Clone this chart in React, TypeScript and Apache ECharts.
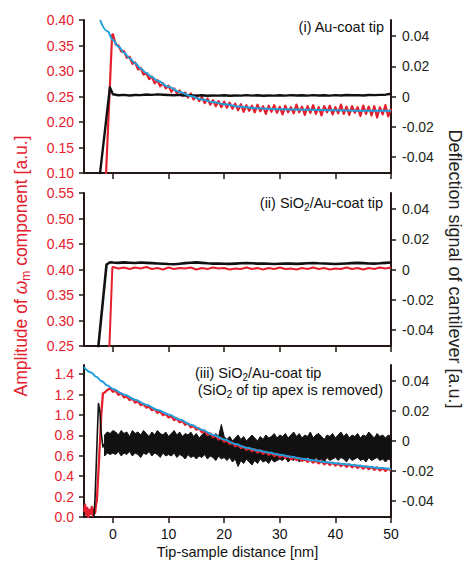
import React, { useEffect, useRef } from "react";
import * as echarts from "echarts";

const RED = "#e5202e";
const BLUE = "#1e9fdc";
const BLACK = "#111111";
const AXIS = "#231815";
const FONT = "Arial, 'Liberation Sans', Helvetica, sans-serif";

// ---- axes ----
const X_MIN = -5.2;
const X_MAX = 50;
const X_TICKS = [0, 10, 20, 30, 40, 50];
const DEFL_MIN = -0.0506;
const DEFL_MAX = 0.0506;
const DEFL_TICKS = [-0.04, -0.02, 0, 0.02, 0.04];
const P1_AMP_MIN = 0.1;
const P1_AMP_MAX = 0.4;
const P1_AMP_TICKS = [0.1, 0.15, 0.2, 0.25, 0.3, 0.35, 0.4];
const P2_AMP_MIN = 0.25;
const P2_AMP_MAX = 0.55;
const P2_AMP_TICKS = [0.25, 0.3, 0.35, 0.4, 0.45, 0.5, 0.55];
const P3_AMP_MIN = 0;
const P3_AMP_MAX = 1.49;
const P3_AMP_TICKS = [0, 0.2, 0.4, 0.6, 0.8, 1.0, 1.2, 1.4];

// ---- panel (i) Au-coat tip ----
const P1_FIT_X = [-2.3, -1, 0, 1, 2, 3, 4, 5, 6, 7, 8, 10, 12, 14, 16, 18, 20, 23, 26, 30, 35, 40, 45, 50];
const P1_FIT_Y = [0.4, 0.378, 0.361, 0.348, 0.336, 0.325, 0.315, 0.305, 0.296, 0.288, 0.281, 0.269, 0.259, 0.251, 0.244, 0.239, 0.235, 0.23, 0.227, 0.225, 0.224, 0.223, 0.222, 0.222];
const P1_RED_RISE_X = [-1.25, -0.15];
const P1_RED_RISE_Y = [0.095, 0.37];
const P1_RED_X0 = 0;
const P1_RED_STEP = 0.5;
const P1_RED = [
  0.372, 0.352, 0.35, 0.338, 0.339, 0.326, 0.328, 0.314, 0.317, 0.303,
  0.306, 0.293, 0.296, 0.284, 0.289, 0.276, 0.282, 0.27, 0.276, 0.266,
  0.271, 0.259, 0.266, 0.256, 0.262, 0.251, 0.258, 0.248, 0.256, 0.244,
  0.252, 0.241, 0.249, 0.237, 0.246, 0.234, 0.243, 0.231, 0.241, 0.229,
  0.24, 0.228, 0.238, 0.226, 0.236, 0.223, 0.235, 0.22, 0.233, 0.222,
  0.232, 0.219, 0.234, 0.221, 0.231, 0.216, 0.232, 0.22, 0.233, 0.218,
  0.23, 0.215, 0.232, 0.219, 0.229, 0.217, 0.234, 0.219, 0.23, 0.214,
  0.231, 0.218, 0.233, 0.216, 0.229, 0.213, 0.231, 0.219, 0.232, 0.215,
  0.229, 0.217, 0.234, 0.216, 0.23, 0.214, 0.231, 0.218, 0.229, 0.212,
  0.232, 0.216, 0.23, 0.213, 0.231, 0.209, 0.229, 0.215, 0.233, 0.211,
  0.226,
];
const P1_BLK_RISE_X = [-2.34, -0.54];
const P1_BLK_RISE_Y = [-0.0515, 0.006];
const P1_BLK_X0 = 0;
const P1_BLK_STEP = 1;
const P1_BLK = [
  0.0015, 0.0008, 0.0011, 0.0007, 0.001, 0.0009, 0.0013, 0.0011, 0.0014, 0.0012,
  0.001, 0.0008, 0.0011, 0.0007, 0.0009, 0.0006, 0.0008, 0.0005, 0.0007, 0.0006,
  0.0008, 0.0005, 0.0007, 0.0006, 0.0009, 0.0006, 0.0008, 0.0005, 0.0007, 0.0006,
  0.0008, 0.0006, 0.0009, 0.0007, 0.0008, 0.0006, 0.0009, 0.0007, 0.0008, 0.0006,
  0.0009, 0.0007, 0.001, 0.0008, 0.0009, 0.0007, 0.001, 0.0009, 0.0011, 0.0012,
  0.0018,
];

// ---- panel (ii) SiO2/Au-coat tip ----
const P2_RED_RISE_X = [-0.65, -0.1];
const P2_RED_RISE_Y = [0.245, 0.404];
const P2_RED_X0 = 0;
const P2_RED_STEP = 1;
const P2_RED = [
  0.405, 0.402, 0.404, 0.401, 0.404, 0.402, 0.405, 0.401, 0.403, 0.4,
  0.404, 0.401, 0.403, 0.402, 0.404, 0.4, 0.403, 0.401, 0.404, 0.402,
  0.403, 0.4, 0.402, 0.401, 0.404, 0.401, 0.403, 0.4, 0.403, 0.401,
  0.404, 0.401, 0.402, 0.4, 0.403, 0.401, 0.404, 0.401, 0.403, 0.4,
  0.402, 0.401, 0.404, 0.401, 0.403, 0.4, 0.403, 0.401, 0.404, 0.402,
  0.404,
];
const P2_BLK_RISE_X = [-2.65, -1.15, -0.5];
const P2_BLK_RISE_Y = [-0.052, 0.0033, 0.0048];
const P2_BLK_X0 = 0;
const P2_BLK_STEP = 1;
const P2_BLK = [
  0.0046, 0.0044, 0.0047, 0.0045, 0.0043, 0.0046, 0.0044, 0.0042, 0.004, 0.0038,
  0.0036, 0.0035, 0.0038, 0.0042, 0.0045, 0.0047, 0.0044, 0.0041, 0.0039, 0.004,
  0.0038, 0.0037, 0.0039, 0.0041, 0.0043, 0.0041, 0.0039, 0.004, 0.0038, 0.0036,
  0.0038, 0.004, 0.0039, 0.0037, 0.0039, 0.0041, 0.0043, 0.0041, 0.004, 0.0038,
  0.0036, 0.0038, 0.004, 0.0042, 0.0044, 0.0042, 0.004, 0.0039, 0.0041, 0.0044,
  0.0046,
];

// ---- panel (iii) SiO2/Au-coat tip, apex SiO2 removed ----
const P3_FIT_X = [-5.2, -4, -3, -2, -1, 0, 2, 4, 6, 8, 10, 12, 14, 16, 18, 20, 22, 24, 26, 28, 30, 32, 34, 36, 38, 40, 42, 44, 46, 48, 50];
const P3_FIT_Y = [1.47, 1.42, 1.375, 1.33, 1.29, 1.255, 1.2, 1.15, 1.1, 1.05, 1.005, 0.955, 0.905, 0.855, 0.805, 0.76, 0.715, 0.68, 0.655, 0.632, 0.61, 0.59, 0.572, 0.556, 0.54, 0.528, 0.516, 0.504, 0.492, 0.48, 0.468];
const P3_RED_PRE_X0 = -5.2;
const P3_RED_PRE_STEP = 0.2;
const P3_RED_PRE = [0.05, 0.12, 0.02, 0.09, 0.0, 0.07, 0.03, 0.1, 0.01, 0.08, 0.04, 0.14];
const P3_RED_RISE_X = [-2.9, -2.5, -2.1, -1.8];
const P3_RED_RISE_Y = [0.15, 0.55, 1.0, 1.21];
const P3_RED_X0 = -1.5;
const P3_RED_STEP = 0.5;
const P3_RED = [
  1.22, 1.245, 1.262, 1.228,
  1.236, 1.198, 1.212, 1.172, 1.184, 1.146, 1.16, 1.121, 1.135, 1.096,
  1.108, 1.072, 1.083, 1.047, 1.06, 1.022, 1.037, 0.999, 1.012, 0.976,
  0.99, 0.951, 0.966, 0.928, 0.941, 0.904, 0.918, 0.879, 0.892, 0.856,
  0.869, 0.83, 0.845, 0.806, 0.82, 0.783, 0.797, 0.759, 0.774, 0.738,
  0.752, 0.716, 0.729, 0.694, 0.709, 0.676, 0.69, 0.658, 0.676, 0.645,
  0.664, 0.632, 0.651, 0.62, 0.641, 0.61, 0.629, 0.598, 0.619, 0.588,
  0.607, 0.578, 0.597, 0.566, 0.587, 0.558, 0.578, 0.55, 0.57, 0.541,
  0.562, 0.533, 0.554, 0.526, 0.546, 0.517, 0.539, 0.511, 0.533, 0.505,
  0.527, 0.498, 0.521, 0.492, 0.515, 0.487, 0.509, 0.481, 0.503, 0.474,
  0.497, 0.469, 0.491, 0.463, 0.486, 0.456, 0.479, 0.452, 0.474, 0.455,
];
const P3_BLK_RISE_X = [-3.5, -3.2, -2.8, -2.6, -2.35, -2.1, -1.8, -1.5];
const P3_BLK_RISE_Y = [-0.056, -0.037, 0.005, 0.025, 0.02, 0.005, -0.004, -0.002];
const P3_BLK_X0 = -1.5;
const P3_BLK_STEP = 0.5;
const P3_BLK_UPPER = [
  0.004, 0.006, 0.005, 0.007,
  0.006, 0.004, 0.007, 0.005, 0.006, 0.003, 0.007, 0.005, 0.006, 0.004,
  0.007, 0.005, 0.003, 0.006, 0.004, 0.007, 0.005, 0.004, 0.006, 0.003,
  0.005, 0.007, 0.004, 0.006, 0.003, 0.005, 0.004, 0.006, 0.003, 0.005,
  0.002, 0.004, 0.006, 0.003, 0.004, 0.002, 0.005, 0.003, 0.011, 0.003,
  0.001, 0.003, 0.0, 0.002, 0.004, 0.001, 0.003, 0.0, 0.002, 0.004,
  0.002, 0.0, 0.003, 0.001, 0.004, 0.002, 0.003, 0.005, 0.002, 0.004,
  0.003, 0.005, 0.002, 0.004, 0.006, 0.003, 0.005, 0.002, 0.004, 0.003,
  0.006, 0.002, 0.004, 0.005, 0.003, 0.001, 0.004, 0.003, 0.005, 0.002,
  0.004, 0.006, 0.003, 0.005, 0.002, 0.004, 0.003, 0.005, 0.002, 0.004,
  0.003, 0.006, 0.004, 0.002, 0.005, 0.003, 0.004, 0.002, 0.004, 0.003,
];
const P3_BLK_LOWER = [
  -0.01, -0.008, -0.009, -0.008,
  -0.009, -0.007, -0.01, -0.008, -0.009, -0.007, -0.01, -0.008, -0.009, -0.011,
  -0.008, -0.009, -0.007, -0.01, -0.008, -0.009, -0.011, -0.008, -0.01, -0.009,
  -0.01, -0.008, -0.011, -0.009, -0.01, -0.012, -0.009, -0.011, -0.01, -0.012,
  -0.01, -0.011, -0.009, -0.012, -0.01, -0.011, -0.013, -0.01, -0.012, -0.011,
  -0.013, -0.011, -0.014, -0.012, -0.017, -0.013, -0.015, -0.012, -0.014, -0.016,
  -0.013, -0.015, -0.012, -0.014, -0.013, -0.015, -0.012, -0.014, -0.013, -0.012,
  -0.013, -0.011, -0.014, -0.012, -0.013, -0.011, -0.014, -0.012, -0.013, -0.011,
  -0.012, -0.014, -0.011, -0.013, -0.012, -0.014, -0.011, -0.013, -0.012, -0.011,
  -0.013, -0.011, -0.012, -0.014, -0.011, -0.013, -0.012, -0.011, -0.013, -0.012,
  -0.014, -0.011, -0.013, -0.012, -0.011, -0.013, -0.012, -0.014, -0.012, -0.013,
];

const zip = (xs: number[], ys: number[]) => xs.map((x, i) => [x, ys[i]]);
const sampled = (x0: number, step: number, ys: number[]) =>
  ys.map((y, i) => [Math.round((x0 + i * step) * 1000) / 1000, y]);

const GRIDS = [
  { left: 84, top: 20, width: 307, height: 153 },
  { left: 84, top: 193, width: 307, height: 153 },
  { left: 84, top: 365, width: 307, height: 152 },
];

function buildOption() {
  const xAxis = [0, 1, 2].map((i) => ({
    type: "value",
    gridIndex: i,
    min: X_MIN,
    max: X_MAX,
    axisLine: { show: true, onZero: false, lineStyle: { color: AXIS, width: 2 } },
    axisTick: { show: true, length: 6, inside: false, customValues: X_TICKS, lineStyle: { color: AXIS, width: 1.5 } },
    axisLabel: { show: i === 2, customValues: X_TICKS, color: BLACK, fontSize: 14, fontFamily: FONT, margin: 10 },
    splitLine: { show: false },
  }));
  const leftSpecs = [
    { min: P1_AMP_MIN, max: P1_AMP_MAX, ticks: P1_AMP_TICKS, dec: 2 },
    { min: P2_AMP_MIN, max: P2_AMP_MAX, ticks: P2_AMP_TICKS, dec: 2 },
    { min: P3_AMP_MIN, max: P3_AMP_MAX, ticks: P3_AMP_TICKS, dec: 1 },
  ];
  const yAxis: any[] = [];
  leftSpecs.forEach((s, i) => {
    yAxis.push({
      type: "value",
      gridIndex: i,
      position: "left",
      min: s.min,
      max: s.max,
      axisLine: { show: true, onZero: false, lineStyle: { color: AXIS, width: 2 } },
      axisTick: { show: true, length: 5, customValues: s.ticks, lineStyle: { color: AXIS, width: 1.5 } },
      axisLabel: {
        customValues: s.ticks,
        color: RED,
        fontSize: 14,
        fontFamily: FONT,
        margin: 10,
        formatter: (v: number) => v.toFixed(s.dec),
      },
      splitLine: { show: false },
    });
    yAxis.push({
      type: "value",
      gridIndex: i,
      position: "right",
      min: DEFL_MIN,
      max: DEFL_MAX,
      axisLine: { show: true, onZero: false, lineStyle: { color: AXIS, width: 2 } },
      axisTick: { show: true, length: 5, customValues: DEFL_TICKS, lineStyle: { color: AXIS, width: 1.5 } },
      axisLabel: {
        customValues: DEFL_TICKS,
        color: "#231f20",
        fontSize: 14,
        fontFamily: FONT,
        margin: 11,
        formatter: (v: number) => (Math.abs(v) < 1e-9 ? "0" : v.toFixed(2)),
      },
      splitLine: { show: false },
    });
  });

  const line = (xi: number, yi: number, data: any[], color: string, width: number, extra: any = {}) => ({
    type: "line",
    xAxisIndex: xi,
    yAxisIndex: yi,
    data,
    showSymbol: false,
    symbol: "none",
    clip: true,
    lineStyle: { color, width, join: "round" },
    itemStyle: { color },
    ...extra,
  });

  const series: any[] = [
    // panel 1
    line(0, 0, [...zip(P1_RED_RISE_X, P1_RED_RISE_Y), ...sampled(P1_RED_X0, P1_RED_STEP, P1_RED)], RED, 2.2),
    line(0, 1, [...zip(P1_BLK_RISE_X, P1_BLK_RISE_Y), ...sampled(P1_BLK_X0, P1_BLK_STEP, P1_BLK)], BLACK, 2.4),
    line(0, 0, zip(P1_FIT_X, P1_FIT_Y), BLUE, 2, { smooth: 0.4, smoothMonotone: "x" }),
    // panel 2
    line(1, 2, [...zip(P2_RED_RISE_X, P2_RED_RISE_Y), ...sampled(P2_RED_X0, P2_RED_STEP, P2_RED)], RED, 2),
    line(1, 3, [...zip(P2_BLK_RISE_X, P2_BLK_RISE_Y), ...sampled(P2_BLK_X0, P2_BLK_STEP, P2_BLK)], BLACK, 2.6),
    // panel 3
    line(
      2,
      4,
      [
        ...sampled(P3_RED_PRE_X0, P3_RED_PRE_STEP, P3_RED_PRE),
        ...zip(P3_RED_RISE_X, P3_RED_RISE_Y),
        ...sampled(P3_RED_X0, P3_RED_STEP, P3_RED),
      ],
      RED,
      2.3
    ),
    line(2, 5, zip(P3_BLK_RISE_X, P3_BLK_RISE_Y), BLACK, 1.6),
    {
      type: "custom",
      coordinateSystem: "cartesian2d",
      xAxisIndex: 2,
      yAxisIndex: 5,
      clip: true,
      data: [[0, 0]],
      renderItem: (_params: any, api: any) => {
        const up = sampled(P3_BLK_X0, P3_BLK_STEP, P3_BLK_UPPER).map((p) => api.coord(p));
        const lo = sampled(P3_BLK_X0, P3_BLK_STEP, P3_BLK_LOWER).map((p) => api.coord(p));
        return {
          type: "polygon",
          shape: { points: [...up, ...lo.reverse()] },
          style: { fill: BLACK, stroke: BLACK, lineWidth: 1 },
        };
      },
    },
    line(2, 4, zip(P3_FIT_X, P3_FIT_Y), BLUE, 2, { smooth: 0.4, smoothMonotone: "x" }),
  ];

  const txt = (x: number, y: number, text: string, align: string, fill: string, size: number, rotation = 0, lineHeight = 18) => ({
    type: "text",
    x,
    y,
    rotation,
    z: 100,
    style: {
      text,
      fill,
      fontSize: size,
      fontFamily: FONT,
      align,
      verticalAlign: "middle",
      textAlign: align,
      textVerticalAlign: "middle",
      lineHeight,
      rich: {
        sub: { fontSize: Math.round(size * 0.68), fontFamily: FONT, fill, verticalAlign: "bottom", lineHeight: Math.round(size * 0.75) },
        w: { fontSize: size, fontFamily: FONT, fill, fontStyle: "italic" },
      },
    },
  });

  const graphic = [
    txt(21, 266, "Amplitude of {w|ω}{sub|m} component [a.u.]", "center", RED, 17.5, Math.PI / 2, 22),
    txt(455, 269, "Deflection signal of cantilever [a.u.]", "center", "#231f20", 18, -Math.PI / 2, 22),
    txt(237.5, 552, "Tip-sample distance [nm]", "center", BLACK, 14.5),
    txt(384, 27, "(i) Au-coat tip", "right", BLACK, 14.5),
    txt(383, 203, "(ii) SiO{sub|2}/Au-coat tip", "right", BLACK, 14.5),
    txt(195, 373, "(iii) SiO{sub|2}/Au-coat tip", "left", BLACK, 14.5),
    txt(383, 390, "(SiO{sub|2} of tip apex is removed)", "right", BLACK, 14.5),
  ];

  return {
    animation: false,
    backgroundColor: "#ffffff",
    grid: GRIDS.map((g) => ({ ...g, containLabel: false, outerBoundsMode: "none" })),
    xAxis,
    yAxis,
    series,
    graphic,
  };
}

export default function App() {
  const ref = useRef<HTMLDivElement>(null);
  useEffect(() => {
    if (!ref.current) return;
    const chart = echarts.init(ref.current, undefined, { renderer: "svg" });
    chart.setOption(buildOption() as any);
    return () => chart.dispose();
  }, []);
  return (
    <div
      ref={ref}
      style={{ position: "fixed", left: 0, top: 0, width: 464, height: 561, background: "#fff" }}
    />
  );
}
